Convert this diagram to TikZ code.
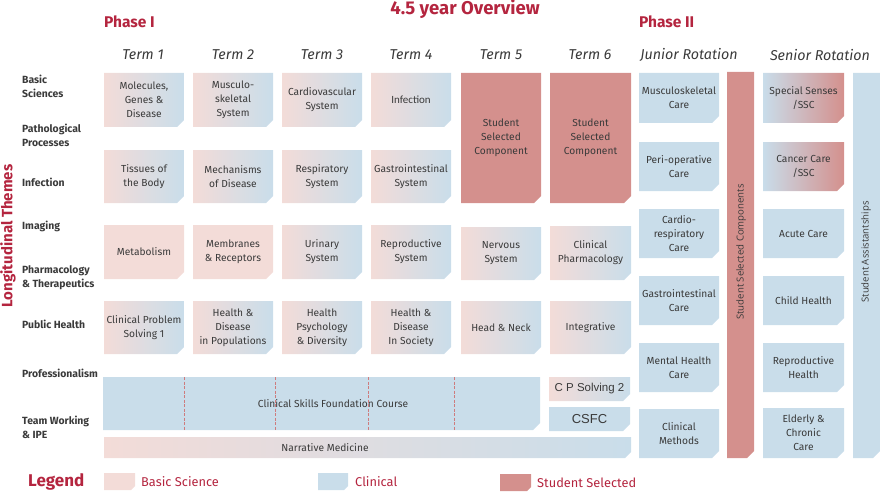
\documentclass[tikz,border=0pt]{standalone}
\usepackage{fontspec}
\setmainfont{Fira Sans}
\newfontfamily\arialf{Liberation Sans}
\newfontfamily\carlf{Carlito}
\newfontfamily\opensf{Open Sans}
\definecolor{pinkc}{HTML}{F3DCD8}
\definecolor{bluec}{HTML}{C9DDEA}
\definecolor{redc}{HTML}{D4908D}
\definecolor{titlec}{HTML}{B4253F}
\definecolor{txtc}{HTML}{3A3A3A}
\newcommand{\pbox}[7]{%
  \path[#6] (#2,#3) -- (#4,#3) -- (#4,#5-7) -- (#4-7,#5) -- (#2,#5) -- cycle;
  \node[boxtext] (#1) at ({(#2+#4)/2},{(#3+#5)/2}) {#7};
}
\begin{document}
\begin{tikzpicture}[x=1pt,y=-1pt,
  boxtext/.style={align=center,font=\fontsize{10.2}{14}\selectfont,text=txtc,inner sep=0pt},
  bs/.style={fill=pinkc},
  cl/.style={fill=bluec},
  ss/.style={fill=redc},
  mix/.style={left color=pinkc,right color=bluec},
  mixr/.style={left color=bluec,right color=redc},
  termlbl/.style={font=\fontsize{14.3}{16}\itshape,text=txtc,inner sep=0pt},
  themelbl/.style={anchor=west,align=left,font=\fontsize{10.4}{14}\selectfont\bfseries,text=txtc,inner sep=0pt},
  headlbl/.style={font=\fontsize{15.5}{17}\selectfont\bfseries,text=titlec,inner sep=0pt},
  leglbl/.style={anchor=west,font=\fontsize{12.8}{14}\selectfont,text=titlec,inner sep=0pt},
  divline/.style={draw=redc!80!titlec,line width=0.4pt,dash pattern=on 3pt off 1.5pt},
]
\useasboundingbox (0,0) rectangle (880,492);
% headers
\node[headlbl,font=\fontsize{18.5}{20}\selectfont\bfseries] (title) at (465,9) {4.5 year Overview};
\node[headlbl,anchor=west] (ph1) at (104,22) {Phase I};
\node[headlbl,anchor=west] (ph2) at (639,22) {Phase II};
\node[termlbl] (t1) at (143,55) {Term 1};
\node[termlbl] (t2) at (233,55) {Term 2};
\node[termlbl] (t3) at (322,55) {Term 3};
\node[termlbl] (t4) at (411,55) {Term 4};
\node[termlbl] (t5) at (501,55) {Term 5};
\node[termlbl] (t6) at (590,55) {Term 6};
\node[termlbl] (jr) at (689,55) {Junior Rotation};
\node[termlbl] (sr) at (820,55) {Senior Rotation};
% theme labels
\node[headlbl,rotate=90,font=\fontsize{15}{17}\selectfont\bfseries] (lt) at (8,236) {Longitudinal Themes};
\node[themelbl] (th1) at (22,86) {Basic\\Sciences};
\node[themelbl] (th2) at (22,135) {Pathological\\Processes};
\node[themelbl] (th3) at (22,182) {Infection};
\node[themelbl] (th4) at (22,226) {Imaging};
\node[themelbl] (th5) at (22,278) {Pharmacology\\\& Therapeutics};
\node[themelbl] (th6) at (22,324) {Public Health};
\node[themelbl] (th7) at (22,373) {Professionalism};
\node[themelbl] (th8) at (22,427) {Team Working\\\& IPE};
% Term 1
\pbox{mol}{104}{73}{184}{127}{mix}{Molecules,\\Genes \&\\Disease}
\pbox{tis}{104}{150}{184}{203}{mix}{Tissues of\\the Body}
\pbox{met}{104}{225}{184}{279}{bs}{Metabolism}
\pbox{cpsa}{104}{301}{184}{354}{mix}{Clinical Problem\\Solving 1}
% Term 2
\pbox{musc}{193}{73}{273}{127}{mix}{Musculo-\\skeletal\\System}
\pbox{mech}{193}{150}{273}{203}{mix}{Mechanisms\\of Disease}
\pbox{memb}{193}{225}{273}{279}{bs}{Membranes\\\& Receptors}
\pbox{hdp}{193}{301}{273}{354}{mix}{Health \&\\Disease\\in Populations}
% Term 3
\pbox{cardio}{282}{73}{362}{127}{mix}{Cardiovascular\\System}
\pbox{resp}{282}{150}{362}{203}{mix}{Respiratory\\System}
\pbox{urin}{282}{225}{362}{279}{mix}{Urinary\\System}
\pbox{hpsy}{282}{301}{362}{354}{mix}{Health\\Psychology\\\& Diversity}
% Term 4
\pbox{infb}{371}{73}{451}{127}{mix}{{\carlf\fontsize{11}{14}\selectfont Infection}}
\pbox{gis}{371}{150}{451}{203}{mix}{Gastrointestinal\\System}
\pbox{repro}{371}{225}{451}{279}{mix}{Reproductive\\System}
\pbox{hds}{371}{301}{451}{354}{mix}{Health \&\\Disease\\In Society}
% Term 5
\pbox{ssca}{461}{73}{541}{203}{ss}{Student\\Selected\\Component}
\pbox{nerv}{461}{227}{541}{280}{mix}{Nervous\\System}
\pbox{hn}{461}{301}{541}{354}{mix}{Head \& Neck}
% Term 6
\pbox{sscb}{550}{73}{631}{203}{ss}{Student\\Selected\\Component}
\pbox{cph}{550}{226}{631}{280}{mix}{Clinical\\Pharmacology}
\pbox{integ}{550}{301}{631}{354}{mix}{Integrative}
\pbox{cpsb}{549}{377}{630}{401}{mix}{{\arialf\fontsize{11.5}{12}\selectfont C P Solving 2}}
\pbox{csfcb}{549}{407}{630}{431}{cl}{{\arialf\fontsize{13}{14}\selectfont CSFC}}
% Clinical skills foundation course
\path[cl] (103,377) -- (540,377) -- (540,423) -- (533,430) -- (103,430) -- cycle;
\node[boxtext] (csfc) at (333,404) {Clinical Skills Foundation Course};
\foreach \xx in {184,275,368,454} \draw[divline] (\xx,377) -- (\xx,430);
% Narrative medicine
\path[mix] (104,437) -- (631,437) -- (631,452) -- (625,458) -- (104,458) -- cycle;
\node[boxtext] (nm) at (325,447.5) {Narrative Medicine};
% Junior rotation
\pbox{jmsk}{639}{73}{719}{123}{cl}{Musculoskeletal\\Care}
\pbox{jperi}{639}{142}{719}{191}{cl}{Peri-operative\\Care}
\pbox{jcard}{639}{209}{719}{258}{cl}{Cardio-\\respiratory\\Care}
\pbox{jgi}{639}{276}{719}{325}{cl}{Gastrointestinal\\Care}
\pbox{jmh}{639}{343}{719}{392}{cl}{Mental Health\\Care}
\pbox{jcm}{639}{409}{719}{458}{cl}{Clinical\\Methods}
% SSC bar
\path[ss] (727,72) -- (754,72) -- (754,451) -- (747,458) -- (727,458) -- cycle;
\node[boxtext,rotate=90,font=\opensf\fontsize{9.6}{10}\selectfont] (sscv) at (741,252) {Student Selected Components};
% Senior rotation
\pbox{sss}{763}{73}{844}{123}{mixr}{Special Senses\\/SSC}
\pbox{scc}{763}{142}{844}{191}{mixr}{Cancer Care\\/SSC}
\pbox{sac}{763}{209}{844}{258}{cl}{Acute Care}
\pbox{sch}{763}{276}{844}{325}{cl}{Child Health}
\pbox{srh}{763}{343}{844}{392}{cl}{Reproductive\\Health}
\pbox{sel}{763}{408}{844}{458}{cl}{Elderly \&\\Chronic\\Care}
% Student assistantships
\path[cl] (853,73) -- (880,73) -- (880,451) -- (873,458) -- (853,458) -- cycle;
\node[boxtext,rotate=90,font=\opensf\fontsize{9.6}{10}\selectfont] (sav) at (866,252) {Student Assistantships};
% Legend
\node[headlbl,anchor=west,font=\fontsize{17}{19}\selectfont\bfseries] (leg) at (28,482) {Legend};
\path[bs] (104,473) -- (135,473) -- (135,486) -- (131,490) -- (104,490) -- cycle;
\node[leglbl] (lbs) at (141,482) {Basic Science};
\path[cl] (318,473) -- (348,473) -- (348,486) -- (344,490) -- (318,490) -- cycle;
\node[leglbl] (lcl) at (355,482) {Clinical};
\path[ss] (500,474) -- (531,474) -- (531,487) -- (527,491) -- (500,491) -- cycle;
\node[leglbl] (lss) at (537,483) {Student Selected};
\end{tikzpicture}
\end{document}
